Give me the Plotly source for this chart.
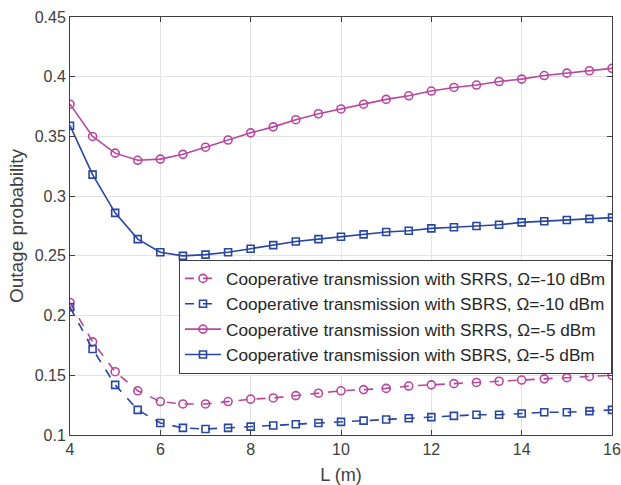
import plotly.graph_objects as go

L = [4, 4.5, 5, 5.5, 6, 6.5, 7, 7.5, 8, 8.5, 9, 9.5, 10, 10.5, 11, 11.5, 12,
     12.5, 13, 13.5, 14, 14.5, 15, 15.5, 16]

srrs_m10 = [0.211, 0.178, 0.153, 0.137, 0.128, 0.126, 0.126, 0.128, 0.130, 0.131,
            0.133, 0.135, 0.137, 0.138, 0.139, 0.141, 0.142, 0.143, 0.144, 0.145,
            0.146, 0.147, 0.148, 0.149, 0.150]
sbrs_m10 = [0.207, 0.172, 0.142, 0.121, 0.110, 0.106, 0.105, 0.106, 0.107, 0.108,
            0.109, 0.110, 0.111, 0.112, 0.113, 0.114, 0.115, 0.116, 0.117, 0.117,
            0.118, 0.119, 0.119, 0.120, 0.121]
srrs_m5 = [0.377, 0.350, 0.336, 0.330, 0.331, 0.335, 0.341, 0.347, 0.353, 0.358,
           0.364, 0.369, 0.373, 0.377, 0.381, 0.384, 0.388, 0.391, 0.393, 0.396,
           0.398, 0.401, 0.403, 0.405, 0.407]
sbrs_m5 = [0.359, 0.318, 0.286, 0.264, 0.253, 0.250, 0.251, 0.253, 0.256, 0.259,
           0.262, 0.264, 0.266, 0.268, 0.270, 0.271, 0.273, 0.274, 0.275, 0.276,
           0.278, 0.279, 0.280, 0.281, 0.282]

names = [
    "Cooperative transmission with SRRS, \u03a9=-10 dBm",
    "Cooperative transmission with SBRS, \u03a9=-10 dBm",
    "Cooperative transmission with SRRS, \u03a9=-5 dBm",
    "Cooperative transmission with SBRS, \u03a9=-5 dBm",
]

x_ticks = [4, 6, 8, 10, 12, 14, 16]
y_ticks = [0.1, 0.15, 0.2, 0.25, 0.3, 0.35, 0.4, 0.45]
y_ticktext = ["0.1", "0.15", "0.2", "0.25", "0.3", "0.35", "0.4", "0.45"]

MAG = "#B8479F"
BLU = "#2747A0"
FONT = "Liberation Sans, Arial, sans-serif"

series = [
    (srrs_m10, MAG, "dash", "circle-open", 8),
    (sbrs_m10, BLU, "dash", "square-open", 7),
    (srrs_m5, MAG, "solid", "circle-open", 8),
    (sbrs_m5, BLU, "solid", "square-open", 7),
]

fig = go.Figure()
for (vals, col, dash, sym, sz), nm in zip(series, names):
    fig.add_trace(go.Scatter(
        x=L, y=vals, name=nm, mode="lines+markers",
        line=dict(color=col, width=1.6, dash=dash),
        marker=dict(symbol=sym, size=sz, color=col, line=dict(width=1.6, color=col)),
    ))

axis_common = dict(
    showline=True, linecolor="#404040", linewidth=1, mirror="ticks",
    ticks="inside", ticklen=5, tickcolor="#404040",
    showgrid=True, gridcolor="#E3E3E3", gridwidth=1, zeroline=False,
    automargin=False, ticklabeloverflow="allow",
    tickfont=dict(family=FONT, size=16, color="#404040"),
)

fig.update_layout(
    width=621, height=485,
    margin=dict(l=70, r=9, t=17, b=50),
    paper_bgcolor="white", plot_bgcolor="white",
    font=dict(family=FONT, color="#262626"),
    xaxis=dict(range=[4, 16], tickvals=x_ticks,
               title=dict(text="L (m)", font=dict(family=FONT, size=18, color="#404040"), standoff=20),
               **axis_common),
    yaxis=dict(range=[0.1, 0.45], tickvals=y_ticks, ticktext=y_ticktext,
               title=dict(text="Outage probability", font=dict(family=FONT, size=19, color="#404040"), standoff=6),
               **axis_common),
    legend=dict(x=1, xanchor="right", y=0.283, yanchor="middle",
                bgcolor="white", bordercolor="#404040", borderwidth=1,
                font=dict(family=FONT, size=17.2, color="#262626"), itemwidth=36,
                tracegroupgap=0),
    showlegend=True,
)

# remove the default page margin so the 621x485 figure fills the window exactly
fig.write_html(
    "out.html",
    config={"displayModeBar": False},
    post_script="document.body.style.margin='0';document.body.style.overflow='hidden';",
)
